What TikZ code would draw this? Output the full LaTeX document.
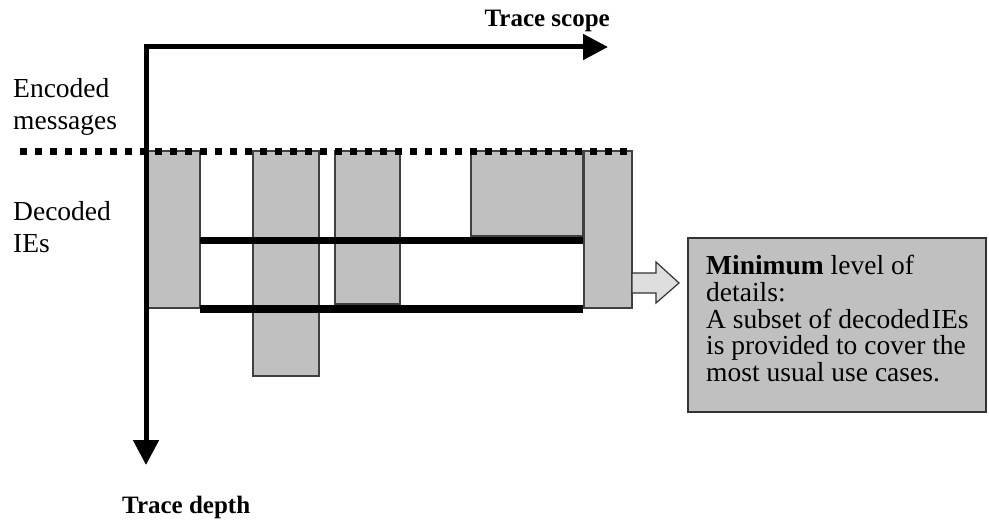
\documentclass[tikz,border=0pt]{standalone}
\usepackage{fontspec}
\setmainfont{Liberation Serif}
\usetikzlibrary{arrows.meta}

\definecolor{ieGray}{RGB}{192,192,192}
\definecolor{arrowGray}{RGB}{222,222,222}
\newcommand{\diagfont}{\fontsize{27.5}{32}\selectfont}
\newcommand{\axisfont}{\fontsize{25}{30}\selectfont\bfseries}
\newcommand{\notefont}{\fontsize{27.5}{26.8}\selectfont}

\tikzset{
  iebox/.style={fill=ieGray, draw=black!75, line width=1.2pt},
  levelbar/.style={line width=7.5pt, color=black},
  axisline/.style={line width=5pt, color=black},
  label/.style={inner sep=0pt, font=\diagfont, align=left},
  infobox/.style={fill=ieGray, draw=black!80, line width=1.5pt, inner sep=0pt},
  blockarrow/.style={fill=arrowGray, draw=black!80, line width=1.2pt}
}

\begin{document}
\begin{tikzpicture}[line join=miter,>={Triangle[length=25pt,width=25pt]},x=1pt,y=-1pt]
  \useasboundingbox (0,0) rectangle (989,527);
  % decoded IEs per message
  \foreach \xa/\xb/\yb in {146/200/308, 253/319/376, 335/400/304, 471/583/236, 584/632/308}
    \draw[iebox] (\xa,151) rectangle (\xb,\yb);
  \draw[levelbar] (200,240.5) -- (583,240.5);
  \draw[levelbar] (200,309) -- (583,309);
  \draw[line width=7pt, dash pattern=on 7pt off 8pt] (20,151) -- (632,151);
  % axes
  \coordinate (origin) at (146,47);
  \coordinate (scopetip) at (608,47);
  \coordinate (depthtip) at (146,465);
  \draw[axisline,<->] (depthtip) -- (origin) -- (scopetip);
  \node[label, anchor=base east, font=\axisfont] (scope) at (610,27) {Trace scope};
  \node[label, anchor=base west, font=\axisfont] (depth) at (122,513) {Trace depth};
  \node[label, anchor=north west] (encoded) at (13,78) {Encoded\\messages};
  \node[label, anchor=north west] (decoded) at (13,201) {Decoded\\IEs};
  % minimum level
  \node[infobox, minimum width=298pt, minimum height=174pt, anchor=north west] (info) at (687,237) {};
  \node[label, anchor=north west, font=\notefont] (infotext) at ([xshift=19pt,yshift=-18pt]info.north west)
    {\textbf{Minimum} level of\\details:\\A subset of decoded\kern2pt IEs\\is provided to cover the\\most usual use cases.};
  \draw[blockarrow] (632,273) -- (656,273) -- (656,262) -- (679,283) -- (656,303) -- (656,293) -- (632,293) -- cycle;
\end{tikzpicture}
\end{document}
